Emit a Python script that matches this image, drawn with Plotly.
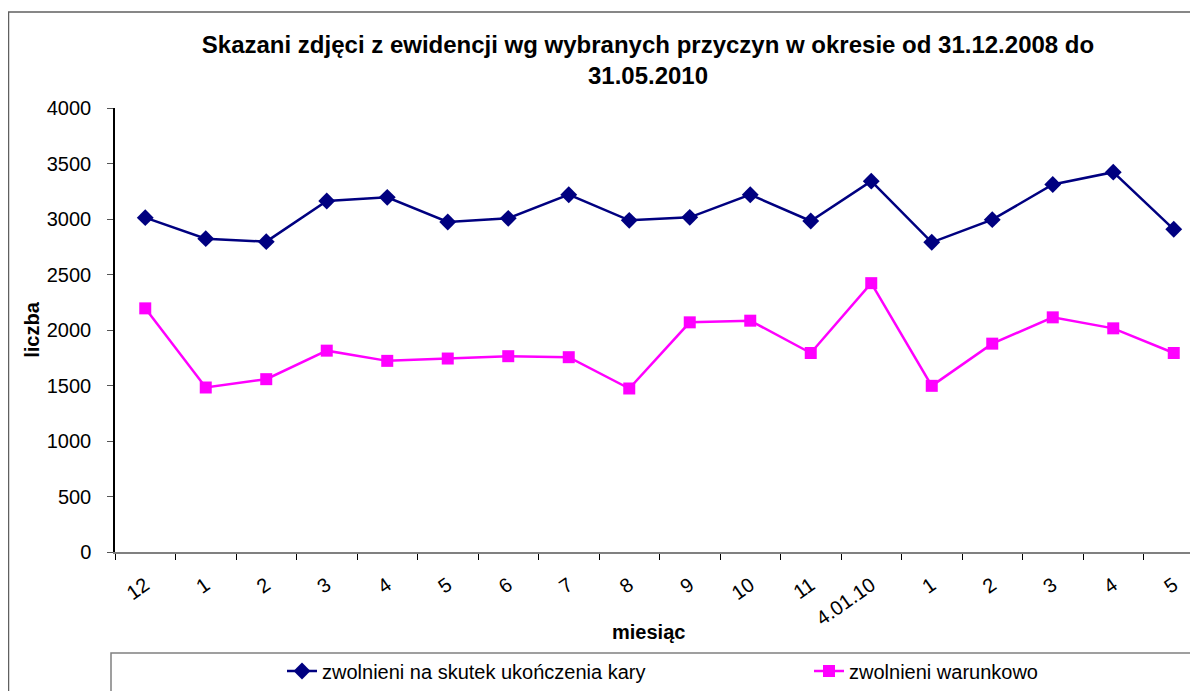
import plotly.graph_objects as go

categories = ["12", "1", "2", "3", "4", "5", "6", "7", "8", "9", "10", "11",
              "4.01.10", "1", "2", "3", "4", "5"]
zwolnieni_kara = [3012, 2823, 2796, 3162, 3195, 2973, 3006, 3219, 2988, 3015,
                  3219, 2982, 3341, 2790, 2994, 3311, 3422, 2907]
zwolnieni_warunkowo = [2195, 1482, 1557, 1814, 1722, 1743, 1764, 1755, 1473, 2069,
                       2084, 1793, 2422, 1497, 1877, 2114, 2015, 1793]
y_ticks = [0, 500, 1000, 1500, 2000, 2500, 3000, 3500, 4000]

# page offset (browser body margin)
OFF = 8
PAGE_W, PAGE_H = 1198, 691
W, H = PAGE_W - OFF, PAGE_H - OFF
# plot area in page pixels
PL, PR, PT, PB = 115, 1198, 108, 552
L, T = PL - OFF, PT - OFF
R, B = W - (PR - OFF), H - (PB - OFF)
pw, ph = W - L - R, H - T - B

def px(x):  # page x -> paper
    return (x - PL) / pw

def py(y):  # page y -> paper
    return (PB - y) / ph

def cx(x):  # page x -> container fraction
    return (x - OFF) / W

def cy(y):
    return 1 - (y - OFF) / H

xs = list(range(len(categories)))
step = 60.5
xmax = -0.5 + pw / step

FONT = "Liberation Sans, Arial, sans-serif"

fig = go.Figure()
fig.add_trace(go.Scatter(
    x=xs, y=zwolnieni_kara, mode="lines+markers",
    name="zwolnieni na skutek ukończenia kary",
    line=dict(color="#000080", width=2.5),
    marker=dict(symbol="diamond", size=13, color="#000080"),
))
fig.add_trace(go.Scatter(
    x=xs, y=zwolnieni_warunkowo, mode="lines+markers",
    name="zwolnieni warunkowo",
    line=dict(color="#FF00FF", width=2.5),
    marker=dict(symbol="square", size=12, color="#FF00FF"),
))

fig.update_layout(
    width=W, height=H,
    margin=dict(l=L, r=R, t=T, b=B, autoexpand=False),
    paper_bgcolor="white", plot_bgcolor="white",
    font=dict(family=FONT, color="black", size=20),
    title=dict(
        text="Skazani zdjęci z ewidencji wg wybranych przyczyn w okresie od 31.12.2008 do<br>31.05.2010",
        x=cx(648), xanchor="center", y=cy(53), yanchor="top",
        font=dict(size=24, family=FONT, weight="bold"),
    ),
    xaxis=dict(
        range=[-0.5, xmax], tickmode="array", tickvals=xs, ticktext=categories,
        ticks="", tickangle=-35, showgrid=False, zeroline=False,
        showline=True, linecolor="#808080", linewidth=1.5,
        tickfont=dict(size=20), ticklabelstandoff=12,
        minor=dict(tickmode="array", tickvals=[i - 0.5 for i in range(len(categories) + 1)],
                   ticks="outside", ticklen=6, tickcolor="black", tickwidth=1, showgrid=False),
    ),
    yaxis=dict(
        range=[0, 4000], tickmode="array", tickvals=y_ticks,
        ticks="outside", ticklen=6, tickcolor="#555555",
        showgrid=False, zeroline=False,
        showline=True, linecolor="black", linewidth=1.5,
        tickfont=dict(size=20), ticklabelstandoff=12,
        title=dict(text="<b>liczba</b>", font=dict(size=20), standoff=2),
    ),
    showlegend=True,
    legend=dict(
        orientation="h", xref="container", yref="container",
        x=cx(282), xanchor="left", y=cy(671), yanchor="middle",
        entrywidthmode="pixels", entrywidth=482,
        bgcolor="rgba(0,0,0,0)", font=dict(size=20),
    ),
)

fig.add_annotation(
    text="<b>miesiąc</b>", x=px(648), y=py(632), xref="paper", yref="paper",
    showarrow=False, xanchor="center", yanchor="middle", font=dict(size=20),
)

# legend box
fig.add_shape(type="rect", xref="paper", yref="paper",
              x0=px(111), x1=px(1195), y0=py(653), y1=py(720),
              line=dict(color="#808080", width=1.5), fillcolor="rgba(0,0,0,0)")
# outer chart border
fig.add_shape(type="rect", xref="paper", yref="paper",
              x0=px(8.5), x1=px(1230), y0=py(720), y1=py(12),
              line=dict(color="#606060", width=1.5), fillcolor="rgba(0,0,0,0)")

fig.write_html("out.html")
